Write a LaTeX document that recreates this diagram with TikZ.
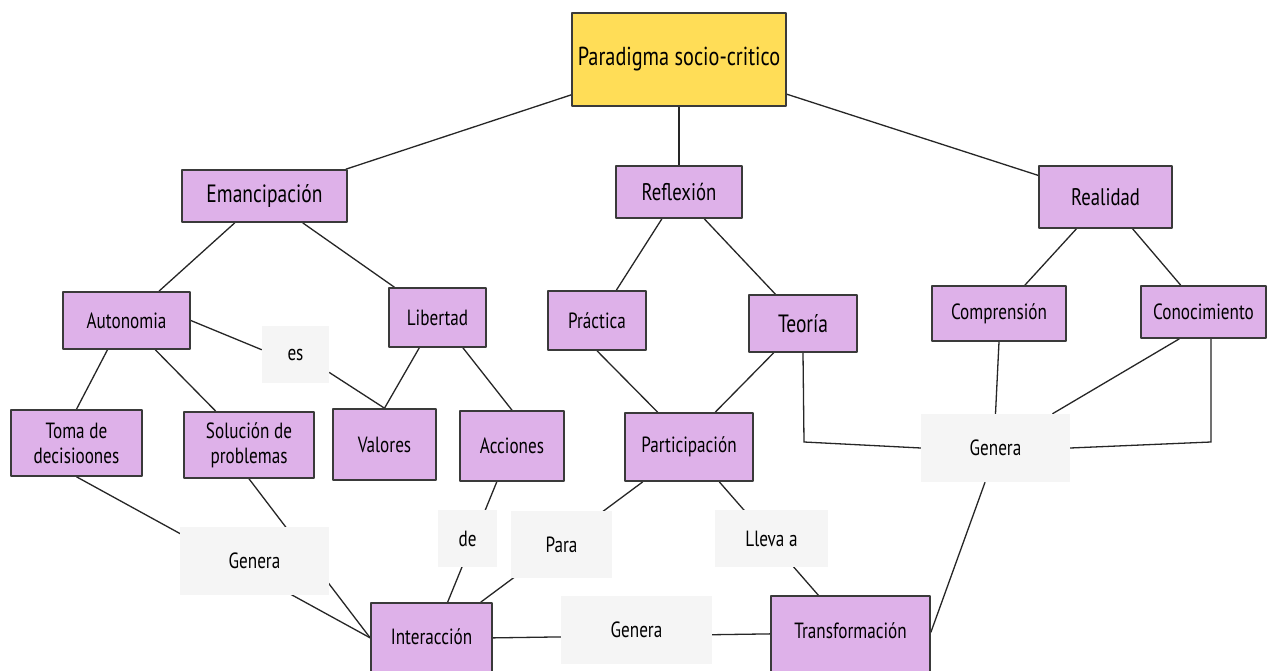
\documentclass[tikz,border=0pt]{standalone}
\usepackage{fontspec}
\setmainfont{PT Sans}[FakeStretch=0.78]
\usepackage{xcolor}
\definecolor{amarillo}{HTML}{FFDD57}
\definecolor{lila}{HTML}{DEB1E9}
\definecolor{grisclaro}{HTML}{F5F5F5}
\definecolor{borde}{HTML}{3A3A3A}
\pgfdeclarelayer{fondo}
\pgfsetlayers{fondo,main}
\tikzset{
    concepto/.style={draw=borde,line width=1.6pt,fill=lila,inner sep=0pt,align=center,font=\fontsize{22}{25}\selectfont},
    grande/.style={font=\fontsize{24}{27}\selectfont},
    enlace/.style={fill=grisclaro,inner sep=0pt,align=center,font=\fontsize{22}{25}\selectfont},
    linea/.style={line width=1.3pt,draw=black!85}
}
\begin{document}
\begin{tikzpicture}[line cap=round,line join=round,x=1pt,y=-1pt]
                \useasboundingbox (0,0) rectangle (1267,671);
                \node [concepto,fill=amarillo,line width=1.3pt,minimum width=214,minimum height=93,font=\fontsize{26}{29}\selectfont] (titulo) at (679,59.5) {Paradigma socio-critico};
                \node [concepto,grande,minimum width=165,minimum height=52,font=\fontsize{25}{28}\selectfont] (eman) at (264.5,196) {Emancipación};
                \node [concepto,grande,minimum width=126,minimum height=52] (refl) at (679,192) {Reflexión};
                \node [concepto,grande,minimum width=133,minimum height=62] (real) at (1105.5,197) {Realidad};
                \node [concepto,minimum width=127,minimum height=57] (auto) at (126.5,320.5) {Autonomia};
                \node [concepto,minimum width=97,minimum height=59] (libe) at (437.5,317.5) {Libertad};
                \node [concepto,minimum width=98,minimum height=59] (prac) at (597,320.5) {Práctica};
                \node [concepto,minimum width=108,minimum height=57,font=\fontsize{25}{28}\selectfont] (teor) at (803,323.5) {Teoría};
                \node [concepto,minimum width=134,minimum height=55] (comp) at (999,313.5) {Comprensión};
                \node [concepto,minimum width=125,minimum height=52] (cono) at (1203.5,312) {Conocimiento};
                \node [concepto,minimum width=131,minimum height=66] (toma) at (76.5,443) {Toma de\\decisioones};
                \node [concepto,minimum width=130,minimum height=66] (solu) at (249,445) {Solución de\\problemas};
                \node [concepto,minimum width=103,minimum height=71] (valo) at (384.5,444.5) {Valores};
                \node [concepto,minimum width=104,minimum height=70] (acci) at (512,446) {Acciones};
                \node [concepto,minimum width=128,minimum height=68] (part) at (689,447) {Participación};
                \node [concepto,minimum width=121,minimum height=87,text height=15pt,text depth=20pt] (inter) at (431.5,646.5) {Interacción};
                \node [concepto,minimum width=159,minimum height=87,text height=15pt,text depth=17pt] (trans) at (850.5,639.5) {Transformación};
                \node [enlace,minimum width=67,minimum height=57] (es) at (295.5,354.5) {es};
                \node [enlace,minimum width=149,minimum height=68] (genR) at (995.5,448) {Genera};
                \node [enlace,minimum width=59,minimum height=57] (de) at (467.5,538.5) {de};
                \node [enlace,minimum width=101,minimum height=67] (para) at (561.5,544.5) {Para};
                \node [enlace,minimum width=113,minimum height=57] (lleva) at (771.5,538.5) {Lleva a};
                \node [enlace,minimum width=149,minimum height=68] (genL) at (254.5,561) {Genera};
                \node [enlace,minimum width=151,minimum height=68] (genM) at (636.5,630) {Genera};
                \coordinate (codoT) at (804,442);
                \coordinate (codoC) at (1211,442);
                \begin{pgfonlayer}{fondo}
                    \fill [white] (0,0) rectangle (1267,671);
                    \draw [linea] (titulo) -- (eman);
                    \draw [linea] (titulo) -- (refl);
                    \draw [linea] (titulo) -- (real);
                    \draw [linea] (eman) -- (auto);
                    \draw [linea] (eman) -- (libe);
                    \draw [linea] (refl) -- (prac);
                    \draw [linea] (refl) -- (teor);
                    \draw [linea] (real) -- (comp);
                    \draw [linea] (real) -- (cono);
                    \draw [linea] (auto.east) -- (es.172);
                    \draw [linea] (es.-28) -- (valo.north);
                    \draw [linea] (auto.-123) -- (toma.north);
                    \draw [linea] (auto) -- (solu);
                    \draw [linea] (libe.-121) -- (valo.north);
                    \draw [linea] (libe.-50) -- (acci.north);
                    \draw [linea] (prac.south) -- (part.132);
                    \draw [linea] (teor.-135) -- (part.53);
                    \draw [linea] (teor.south) -- (codoT) -- (genR.west);
                    \draw [linea] (comp.south) -- (genR.north);
                    \draw [linea] (cono.-132) -- (genR.31);
                    \draw [linea] (cono.south -| codoC) -- (codoC) -- (genR.east);
                    \draw [linea] (genR.-107) -- (trans.5);
                    \draw [linea] (toma.south) -- (inter.172);
                    \draw [linea] (solu.south) -- (inter.172);
                    \draw [linea] (acci.-113) -- (inter.70);
                    \draw [linea] (part.-143) -- (inter.42);
                    \draw [linea] (part.-49) -- (trans.126);
                    \draw [linea] (inter.8) -- (trans.176);
                \end{pgfonlayer}
            \end{tikzpicture}
\end{document}
